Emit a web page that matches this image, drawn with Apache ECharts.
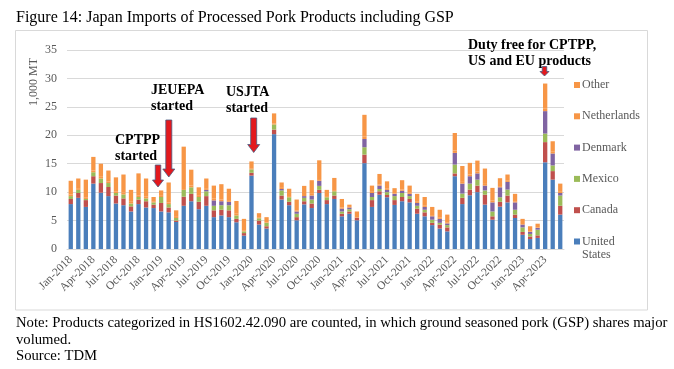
<!DOCTYPE html>
<html>
<head>
<meta charset="utf-8">
<script src="https://cdn.jsdelivr.net/npm/echarts@6/dist/echarts.min.js"></script>
<style>
html,body{margin:0;padding:0;background:#fff;}
#c{width:674px;height:369px;}
</style>
</head>
<body>
<div id="c"></div>
<script>
var categories = [
 'Jan-2018','Feb-2018','Mar-2018','Apr-2018','May-2018','Jun-2018','Jul-2018','Aug-2018','Sep-2018','Oct-2018','Nov-2018','Dec-2018',
 'Jan-2019','Feb-2019','Mar-2019','Apr-2019','May-2019','Jun-2019','Jul-2019','Aug-2019','Sep-2019','Oct-2019','Nov-2019','Dec-2019',
 'Jan-2020','Feb-2020','Mar-2020','Apr-2020','May-2020','Jun-2020','Jul-2020','Aug-2020','Sep-2020','Oct-2020','Nov-2020','Dec-2020',
 'Jan-2021','Feb-2021','Mar-2021','Apr-2021','May-2021','Jun-2021','Jul-2021','Aug-2021','Sep-2021','Oct-2021','Nov-2021','Dec-2021',
 'Jan-2022','Feb-2022','Mar-2022','Apr-2022','May-2022','Jun-2022','Jul-2022','Aug-2022','Sep-2022','Oct-2022','Nov-2022','Dec-2022',
 'Jan-2023','Feb-2023','Mar-2023','Apr-2023','May-2023','Jun-2023'
];
var unitedStates = [
 7.9,9.0,7.4,11.5,9.9,9.3,8.0,7.7,6.6,7.9,7.3,7.2,
 6.6,6.45,4.75,7.6,8.4,7.0,7.6,5.6,5.9,5.6,4.7,2.35,
 12.9,4.3,3.6,20.2,8.7,7.7,5.05,7.85,7.2,9.85,7.9,8.8,
 5.75,6.2,5.05,15.1,7.4,9.55,9.1,7.75,8.4,8.2,6.2,5.75,
 4.2,3.6,3.1,12.8,7.9,9.45,10.0,7.8,5.15,7.45,8.2,5.45,
 2.5,1.75,1.95,15.25,12.2,6.05
];
var canada = [
 0.9,0.85,1.2,1.3,1.7,1.6,1.4,1.2,0.9,0.8,1.1,0.6,
 1.5,0.85,0.25,1.6,1.3,1.3,1.7,1.2,1.0,1.2,0.6,0.45,
 0.5,0.7,0.4,0.8,0.7,0.6,0.55,0.55,0.8,0.55,0.7,0.6,
 0.45,0.4,0.45,1.5,1.2,0.6,0.4,0.85,0.75,0.6,0.9,0.7,
 0.4,0.7,0.7,0.5,1.1,1.0,1.15,1.75,0.6,0.85,1.2,0.6,
 0.5,0.45,0.45,3.55,1.5,1.55
];
var mexico = [
 0.5,0.55,0.2,0.7,0.8,0.7,0.45,0.7,0.5,0.45,0.5,0.4,
 1.05,0.6,0.45,1.2,1.15,0.85,0.85,0.8,0.8,0.9,0.6,0.3,
 0.6,0.4,0.6,0.9,0.9,0.8,0.6,0.6,0.7,0.7,0.5,0.75,
 0.4,0.4,0,1.3,0.55,0.4,0.5,0.7,0.7,0.5,0.5,0.45,
 0.55,0.3,0.4,1.55,0.75,1.05,1.05,0.75,0.85,0.8,1.05,0.85,
 0.8,0.45,1.0,1.5,1.0,1.8
];
var denmark = [
 0,0,0,0,0,0,0,0,0,0,0,0,
 0,0,0,0,0,0,0.25,0.95,0.7,0.6,0,0,
 0,0,0,0,0.25,0,0.4,0.3,0.7,0.9,0,0,
 0.5,0.3,0,1.45,0.7,0.6,0.4,0.4,0.4,0.4,0.5,0.5,
 0.6,0.7,0.3,2.05,1.75,1.3,1.1,0.85,1.6,1.75,1.35,1.3,
 0.5,0.35,0.3,3.95,2.1,0.45
];
var netherlands = [
 0.3,0.3,0.3,0.3,0.3,0.3,0.3,0.3,0.3,0.3,0.3,0.2,
 0.2,0.3,0.2,0.5,0.3,0.2,0.3,0.3,0.3,0.3,0.3,0.2,
 0.2,0.1,0.1,0.2,0.2,0.2,0.2,0.2,0.3,0.3,0.2,0.2,
 0.2,0.1,0.1,0.4,0.2,0.2,0.2,0.1,0.2,0.2,0.2,0.2,
 0.2,0.2,0.2,0.4,0.3,0.3,0.3,0.3,0.3,0.2,0.2,0.2,
 0.1,0.1,0.1,0.5,0.3,0.2
];
var other = [
 2.4,1.7,3.1,2.4,2.3,1.9,2.45,3.2,2.1,3.85,3.2,0.75,
 0.95,3.5,1.15,7.1,2.8,1.5,1.7,2.3,2.7,2.0,2.25,2.0,
 1.2,0.8,0.9,1.75,0.95,1.3,1.9,1.6,2.4,3.3,1.1,2.15,
 1.5,0.4,1.0,3.85,1.1,1.85,1.3,0.9,1.65,1.25,1.4,1.55,
 1.45,1.4,1.35,3.1,2.8,2.05,1.95,2.7,2.25,1.4,1.1,1.3,
 0.9,0.9,0.65,4.35,1.85,1.45
];
var yTicks = {min: 0, max: 35, interval: 5};

var serif = '"Liberation Serif", "Times New Roman", serif';
var chart = echarts.init(document.getElementById('c'), null, {renderer: 'canvas'});

function arrow(x, yTop, yTip, shaftW, headW, headH) {
  var s = shaftW / 2, h = headW / 2, yb = yTip - headH;
  return {
    type: 'polygon',
    shape: {points: [[x - s, yTop], [x + s, yTop], [x + s, yb], [x + h, yb], [x, yTip], [x - h, yb], [x - s, yb]]},
    style: {fill: '#e3191e', stroke: '#4a5a80', lineWidth: 0.8},
    z: 100
  };
}
function label(txt, x, y) {
  return {type: 'text', left: x, top: y, z: 100,
    style: {text: txt, font: 'bold 14px ' + serif, fill: '#000', lineHeight: 16.5}};
}

function mk(name, data, color) {
  return {name: name, type: 'bar', stack: 'total', data: data, barWidth: 4.3,
    itemStyle: {color: color}, emphasis: {disabled: true}};
}

chart.setOption({
  animation: false,
  backgroundColor: '#fff',
  grid: {left: 67, top: 50, width: 497, height: 199, containLabel: false},
  legend: {
    orient: 'vertical', left: 574, top: 77, padding: 0, itemWidth: 6, itemHeight: 6, itemGap: 15.3,
    icon: 'rect', selectedMode: false,
    data: ['Other', 'Netherlands', 'Denmark', 'Mexico', 'Canada', 'United States'],
    formatter: function (n) { return n === 'United States' ? 'United' : n; },
    textStyle: {fontFamily: serif, fontSize: 12, color: '#595959', padding: [0, 0, 0, -3], lineHeight: 16}
  },
  xAxis: {
    type: 'category', data: categories,
    axisTick: {show: false},
    axisLine: {lineStyle: {color: '#d9d9d9'}},
    axisLabel: {rotate: 45, interval: 2, fontFamily: serif, fontSize: 11.5, color: '#595959', margin: 9}
  },
  yAxis: {
    type: 'value', min: yTicks.min, max: yTicks.max, interval: yTicks.interval,
    axisLine: {show: false}, axisTick: {show: false},
    splitLine: {lineStyle: {color: '#d9d9d9'}},
    axisLabel: {fontFamily: serif, fontSize: 12, color: '#595959', margin: 10}
  },
  series: [
    mk('United States', unitedStates, '#4a7ebb'),
    mk('Canada', canada, '#c0504d'),
    mk('Mexico', mexico, '#9bbb59'),
    mk('Denmark', denmark, '#8064a2'),
    mk('Netherlands', netherlands, '#f79646'),
    mk('Other', other, '#f79646')
  ],
  graphic: [
    {type: 'rect', shape: {x: 15.5, y: 30.5, width: 632, height: 279.5}, style: {fill: 'none', stroke: '#d9d9d9', lineWidth: 1}, z: -10},
    {type: 'text', left: 16, top: 10, style: {text: 'Figure 14: Japan Imports of Processed Pork Products including GSP', font: '16px ' + serif, fill: '#000'}},
    {type: 'text', x: 34, y: 82, rotation: Math.PI / 2, style: {text: '1,000 MT', font: '12px ' + serif, fill: '#595959', textAlign: 'center', textVerticalAlign: 'middle'}},
    {type: 'text', left: 582, top: 249, style: {text: 'States', font: '12px ' + serif, fill: '#595959'}},
    label('CPTPP\nstarted', 115, 132),
    label('JEUEPA\nstarted', 151, 82),
    label('USJTA\nstarted', 226, 84),
    label('Duty free for CPTPP,\nUS and EU products', 468, 37),
    arrow(158, 165, 187, 5.5, 11, 7),
    arrow(168.8, 120, 177, 6, 12, 8),
    arrow(253.7, 118, 152.5, 6, 12, 8),
    arrow(544.5, 66.5, 76, 4.5, 9, 4.5),
    {type: 'text', left: 16, top: 315, style: {text: 'Note: Products categorized in HS1602.42.090 are counted, in which ground seasoned pork (GSP) shares major\nvolumed.\nSource: TDM', font: '14.7px ' + serif, fill: '#000', lineHeight: 16.5}}
  ]
});
</script>
</body>
</html>
